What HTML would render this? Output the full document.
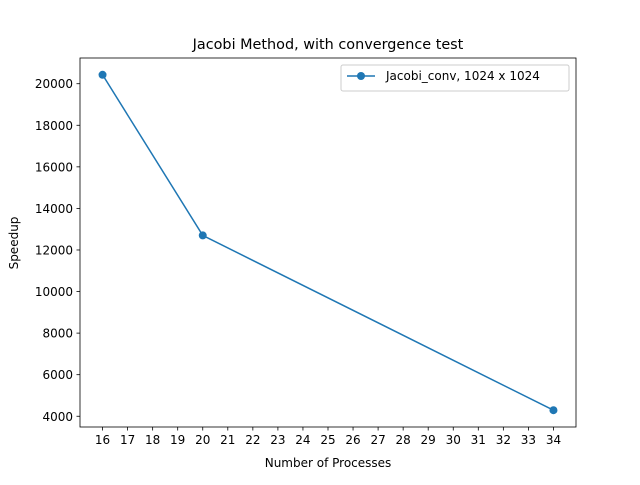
<!DOCTYPE html>
<html><head><meta charset="utf-8"><style>
body{margin:0;background:#fff}
svg{font-family:"DejaVu Sans","Liberation Sans",sans-serif}
</style></head><body>
<svg id="chart" width="640" height="480" viewBox="0 0 640 480">
<rect width="640" height="480" fill="#fff"/>
<text x="328" y="49" text-anchor="middle" font-size="14.4">Jacobi Method, with convergence test</text>
<g id="xt"></g>
<g id="yt"></g>
<g id="series"></g>
<rect x="80" y="58" width="496" height="369" fill="none" stroke="#000" stroke-width="0.8"/>
<text x="328" y="467" text-anchor="middle" font-size="12">Number of Processes</text>
<text transform="translate(18,243) rotate(-90)" text-anchor="middle" font-size="12">Speedup</text>
<g>
<rect x="341" y="65" width="228" height="26" rx="2" fill="#fff" stroke="#ccc"/>
<line x1="347" y1="76" x2="375" y2="76" stroke="#1f77b4" stroke-width="1.5"/>
<circle cx="361" cy="76" r="4" fill="#1f77b4"/>
<text x="386" y="80" font-size="12">Jacobi_conv, 1024 x 1024</text>
</g>
</svg>
<script>
const procs=[16,20,34];
const speedup=[20430,12700,4290];
const xTicks=[16,17,18,19,20,21,22,23,24,25,26,27,28,29,30,31,32,33,34];
const yTicks=[4000,6000,8000,10000,12000,14000,16000,18000,20000];
const NS="http://www.w3.org/2000/svg";
const L=80,R=576,T=58,B=427;
const xmin=15.1,xmax=34.9,ymin=3483,ymax=21237;
const xs=v=>L+(v-xmin)/(xmax-xmin)*(R-L);
const ys=v=>B-(v-ymin)/(ymax-ymin)*(B-T);
function mk(tag,attrs,parent){const e=document.createElementNS(NS,tag);for(const k in attrs)e.setAttribute(k,attrs[k]);parent.appendChild(e);return e;}
const xt=document.getElementById('xt'),yt=document.getElementById('yt'),sg=document.getElementById('series');
xTicks.forEach(t=>{const x=xs(t);
 mk('line',{x1:x,x2:x,y1:B,y2:B+3.5,stroke:'#000','stroke-width':0.8},xt);
 const tx=mk('text',{x:x,y:B+17,'text-anchor':'middle','font-size':12},xt);tx.textContent=t;
 
 
});
yTicks.forEach(t=>{const y=ys(t);
 mk('line',{x1:L-3.5,x2:L,y1:y,y2:y,stroke:'#000','stroke-width':0.8},yt);
 const tx=mk('text',{x:L-7,y:y+4.5,'text-anchor':'end','font-size':12},yt);tx.textContent=t;
 
 
});
const pts=procs.map((p,i)=>xs(p)+','+ys(speedup[i])).join(' ');
const pl=mk('polyline',{points:pts,fill:'none',stroke:'#1f77b4','stroke-width':1.5},sg);


procs.forEach((p,i)=>{const c=mk('circle',{cx:xs(p),cy:ys(speedup[i]),r:4,fill:'#1f77b4'},sg);
 
 
});
</script>
</body></html>
